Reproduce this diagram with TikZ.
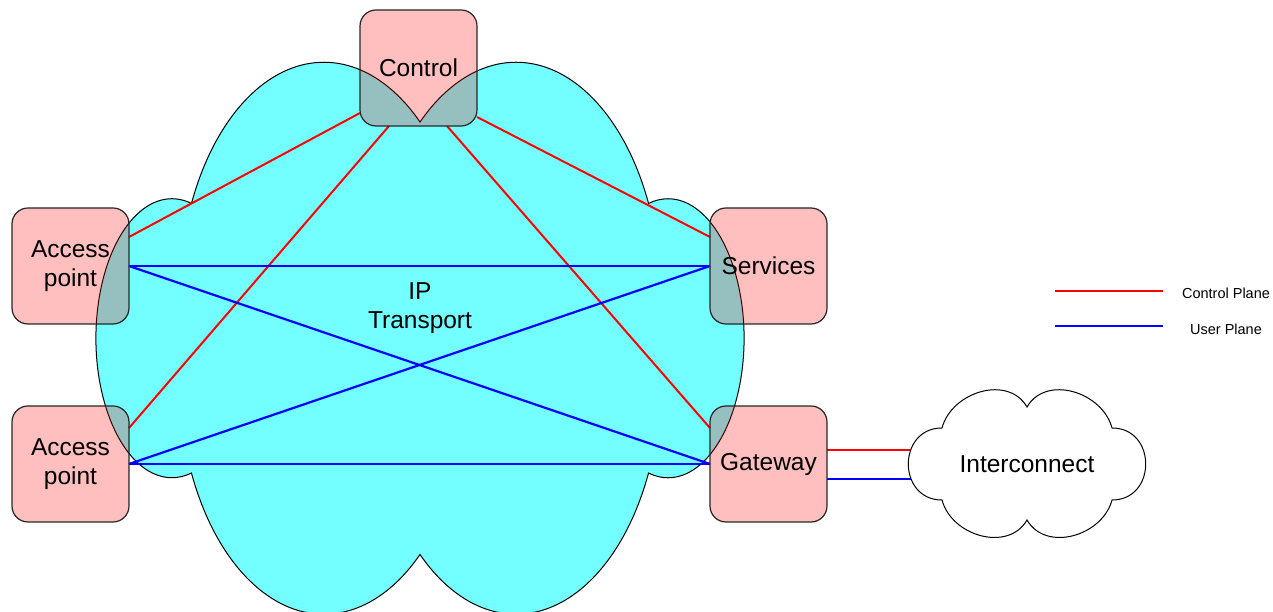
\documentclass[tikz,border=0pt]{standalone}
\usepackage{fontspec}
\setmainfont{Liberation Sans}
\usetikzlibrary{backgrounds,calc}
\definecolor{transportfill}{RGB}{115,255,255}
\tikzset{
  unit/.style={draw=black!85, line width=1.2pt, fill=red, fill opacity=0.25,
    text opacity=1, rounded corners=16pt, minimum width=117pt,
    minimum height=116pt, inner sep=0pt, outer sep=0pt, align=center,
    font=\fontsize{24.5}{29}\selectfont},
  label/.style={inner sep=0pt, align=center, font=\fontsize{24.5}{29}\selectfont},
  legendtext/.style={inner sep=0pt, font=\fontsize{14.5}{17}\selectfont},
  ctrlplane/.style={draw=red, line width=2pt},
  userplane/.style={draw=blue, line width=2.2pt},
  bigcloud/.style={draw=black, line width=1pt, fill=transportfill},
  smallcloud/.style={draw=black, line width=1pt, fill=white},
}
\begin{document}
\begin{tikzpicture}[x=1pt, y=1pt]
\useasboundingbox (0,0) rectangle (1273,612);

% network elements
\node[unit] (ctrl) at (418.5,544) {Control};
\node[unit] (ap1) at (70.5,346) {Access\\point};
\node[unit] (ap2) at (70.5,148) {Access\\point};
\node[unit] (srv) at (768.5,346) {Services};
\node[unit] (gw) at (768.5,148) {Gateway};

\node[label] (ipt) at (420,304) {IP\\Transport};
\node[label] (ic) at (1027,148) {Interconnect};

% legend
\coordinate (cpa) at (1055,321);
\coordinate (cpb) at (1163,321);
\coordinate (upa) at (1055,286);
\coordinate (upb) at (1163,286);
\node[legendtext] (cpt) at (1226,319) {Control Plane};
\node[legendtext] (upt) at (1226,283) {User Plane};

\begin{pgfonlayer}{background}
  % IP transport cloud
  \path[bigcloud] (420,490)
    arc[start angle=48.5, end angle=156, x radius=145pt, y radius=238pt]
    arc[start angle=75.1, end angle=284.9, x radius=76pt, y radius=139.5pt]
    arc[start angle=204, end angle=311.5, x radius=145pt, y radius=238pt]
    arc[start angle=228.5, end angle=336, x radius=145pt, y radius=238pt]
    arc[start angle=-104.9, end angle=104.9, x radius=76pt, y radius=139.5pt]
    arc[start angle=24, end angle=131.5, x radius=145pt, y radius=238pt]
    -- cycle;

  % control plane
  \draw[ctrlplane] ([yshift=-45pt]ctrl.west) -- ([yshift=29pt]ap1.east);
  \draw[ctrlplane] ([xshift=-29.5pt]ctrl.south) -- ([yshift=36pt]ap2.east);
  \draw[ctrlplane] ([xshift=28.5pt]ctrl.south) -- ([yshift=36pt]gw.west);
  \draw[ctrlplane] ([yshift=-49pt]ctrl.east) -- ([yshift=29pt]srv.west);

  % user plane
  \draw[userplane] (ap1.east) -- (srv.west);
  \draw[userplane] (ap1.east) -- (gw.west);
  \draw[userplane] (ap2.east) -- (srv.west);
  \draw[userplane] (ap2.east) -- (gw.west);

  % links to the interconnect
  \draw[ctrlplane] ([yshift=14pt]gw.east) -- ([yshift=14pt]gw.east -| ic.center);
  \draw[userplane] ([yshift=-15pt]gw.east) -- ([yshift=-15pt]gw.east -| ic.center);

  % interconnect cloud
  \path[smallcloud] (942,184)
    to[out=75, in=120, looseness=1.1] (1027,205)
    to[out=60, in=105, looseness=1.1] (1112,184)
    to[out=0, in=0, looseness=1.6] (1112,112)
    to[out=-105, in=-60, looseness=1.1] (1027,92)
    to[out=-120, in=-75, looseness=1.1] (942,112)
    to[out=180, in=180, looseness=1.6] (942,184) -- cycle;

  % legend lines
  \draw[ctrlplane] (cpa) -- (cpb);
  \draw[userplane] (upa) -- (upb);
\end{pgfonlayer}
\end{tikzpicture}
\end{document}
